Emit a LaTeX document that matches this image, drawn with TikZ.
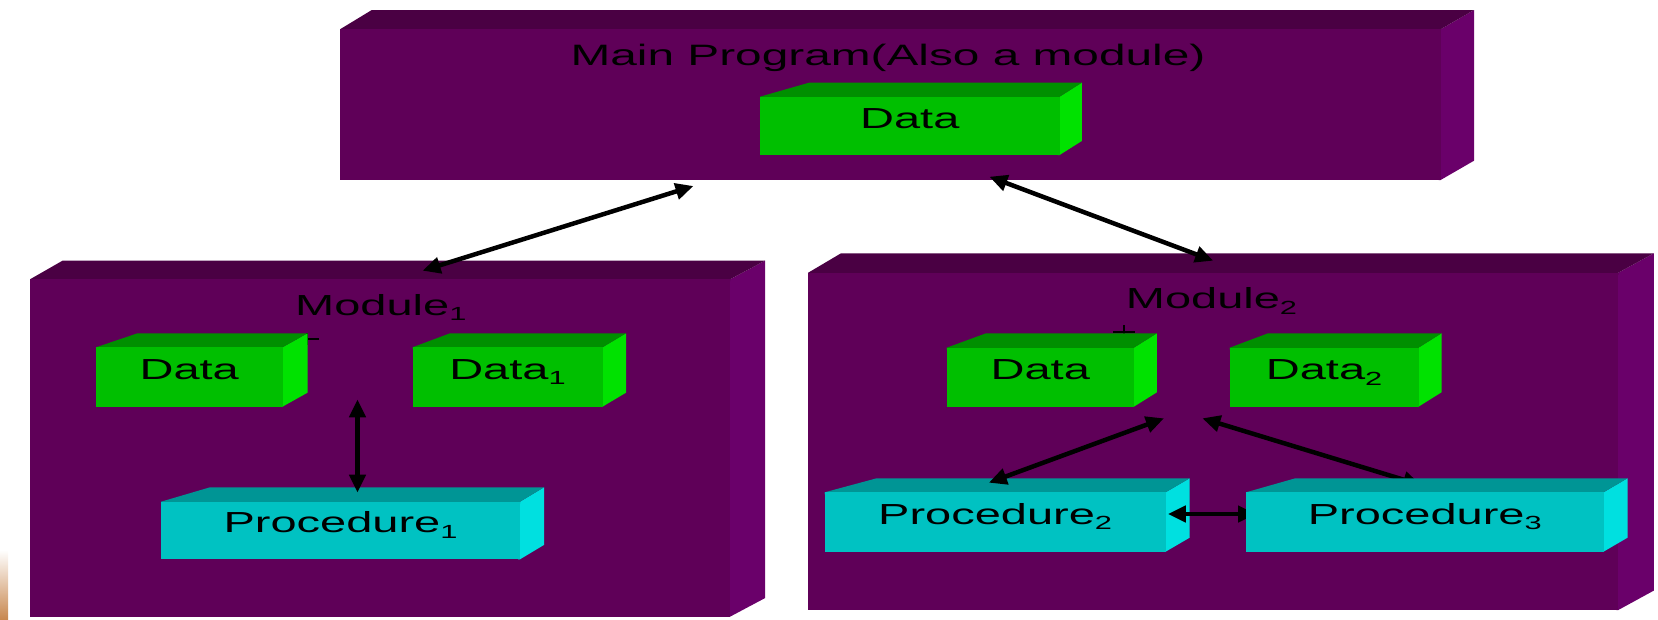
\documentclass[tikz,border=0pt]{standalone}
\usepackage{fontspec}
\newfontfamily\lblfont[FakeStretch=1.62]{Liberation Sans}
\usetikzlibrary{calc,arrows.meta}

% face colours of the extruded slabs
\definecolor{modF}{HTML}{5F0058}
\definecolor{modT}{HTML}{4A0043}
\definecolor{modS}{HTML}{6A006A}
\definecolor{datF}{HTML}{00BF00}
\definecolor{datT}{HTML}{008F00}
\definecolor{datS}{HTML}{00E200}
\definecolor{prcF}{HTML}{00C2C2}
\definecolor{prcT}{HTML}{009595}
\definecolor{prcS}{HTML}{00E0E0}

\tikzset{
  modfront/.style={fill=modF}, modtop/.style={fill=modT}, modside/.style={fill=modS},
  datfront/.style={fill=datF}, dattop/.style={fill=datT}, datside/.style={fill=datS},
  prcfront/.style={fill=prcF}, prctop/.style={fill=prcT}, prcside/.style={fill=prcS},
  lbl/.style={font=\lblfont\fontsize{29}{32}\selectfont, inner sep=0pt, text=black},
  link/.style={line width=4.5pt, black,
    {Triangle[length=18pt,width=16pt]}-{Triangle[length=18pt,width=16pt]}},
  tick/.style={line width=2pt, black}
}

% subscript index
\newcommand\lowidx[1]{\raisebox{-0.2em}{\fontsize{19}{20}\selectfont #1}}

% extruded slab: #1 name, #2 style prefix, #3..#6 front face x1,y1,x2,y2,
% #7 left slant, #8 right slant, #9 depth (upwards)
\newcommand\slab[9]{%
  \node[rectangle, draw=none, inner sep=0pt, outer sep=0pt,
        minimum width={(#5)-(#3)}, minimum height={(#6)-(#4)}]
        (#1) at ({((#3)+(#5))/2},{((#4)+(#6))/2}) {};
  % side and top faces reach a little under the front face so no seam shows
  \fill[#2side] ($(#1.north east)+(-2,0)$) -- (#1.north east) -- ($(#1.north east)+(#8,-#9)$)
                -- ($(#1.south east)+(#8,-#9)$) -- (#1.south east) -- ($(#1.south east)+(-2,0)$) -- cycle;
  \fill[#2top] ($(#1.north west)+(0,2)$) -- (#1.north west) -- ($(#1.north west)+(#7,-#9)$)
               -- ($(#1.north east)+(#8,-#9)$) -- (#1.north east) -- ($(#1.north east)+(0,2)$) -- cycle;
  \fill[#2front] (#1.north west) rectangle (#1.south east);
}

\begin{document}
\begin{tikzpicture}[x=1pt,y=-1pt]
\useasboundingbox (0,0) rectangle (1658,619);

% strip of background at the lower left edge
\shade[top color=white, middle color=white!85!brown, bottom color={rgb,255:red,200;green,136;blue,80}]
  (0,550) rectangle (8,619);

% the three modules
\slab{main}{mod}{340}{29.3}{1440.6}{180}{31.8}{33.4}{19.3}
\slab{modA}{mod}{30}{279.3}{730}{616.7}{32.5}{35}{18.6}
\slab{modB}{mod}{808.2}{272.7}{1618.3}{610}{32.8}{35.5}{19.4}

% stray crosses partly hidden behind the data slabs
\draw[tick] (295,339) -- (319,339) (307,333) -- (307,345);
\draw[tick] (1113,331.5) -- (1135,331.5) (1124,325) -- (1124,339);

% inner slabs
\slab{mdata}{dat}{760}{96.7}{1059.6}{155}{49}{22.2}{14}
\slab{adata}{dat}{96}{347.3}{282.5}{406.7}{41.5}{25}{14}
\slab{adata1}{dat}{412.5}{347.3}{602.5}{406.7}{37.5}{23.5}{14}
\slab{aproc1}{prc}{161}{501.7}{520}{559.3}{49}{24}{14.4}
\slab{bdata}{dat}{946.7}{347.7}{1133.9}{406.7}{39.3}{23}{14.4}
\slab{bdata2}{dat}{1229.7}{347.7}{1418.5}{406.7}{38.3}{23}{14.4}
\slab{bproc2}{prc}{824.6}{492.3}{1165.6}{551.7}{52}{24}{14}

% labels
\node[lbl, anchor=base, font=\lblfont\fontsize{29.5}{32}\selectfont] (ttl) at (888,65) {Main Program(Also a module)};
\node[lbl, anchor=mid] (tmdata) at (mdata.center) {Data};
\node[lbl, anchor=base west] (tmodA) at (295,315) {Module\lowidx{1}};
\node[lbl, anchor=mid] (tadata) at (adata.center) {Data};
\node[lbl, anchor=mid] (tadata1) at (adata1.center) {Data\lowidx{1}};
\node[lbl, anchor=mid] (taproc1) at (aproc1.center) {Procedure\lowidx{1}};
\node[lbl, anchor=base west] (tmodB) at (1125.7,308.3) {Module\lowidx{2}};
\node[lbl, anchor=mid] (tbdata) at (bdata.center) {Data};
\node[lbl, anchor=mid] (tbdata2) at (bdata2.center) {Data\lowidx{2}};
\node[lbl, anchor=mid] (tbproc2) at (bproc2.center) {Procedure\lowidx{2}};

% connector ends
\coordinate (mainL) at (693.5,186);
\coordinate (modAin) at (422.5,270.7);
\coordinate (mainR) at (989.4,176.7);
\coordinate (modBin) at (1213.2,260.7);
\coordinate (aup) at (357.5,399.3);
\coordinate (adown) at (357.5,492.7);
\coordinate (hubL) at (1164,418.3);
\coordinate (p2top) at (988.8,482.7);
\coordinate (hubR) at (1202.3,418.3);
\coordinate (p3top) at (1421,485);
\coordinate (p2right) at (1167.8,514);
\coordinate (p3left) at (1256,514);

% connectors
\draw[link] (mainL) -- (modAin);
\draw[link] (mainR) -- (modBin);
\draw[link] (aup) -- (adown);
\draw[link] (hubL) -- (p2top);
\draw[link] (hubR) -- (p3top);
\draw[link] (p2right) -- (p3left);

% last slab covers the ends of the two links that meet it
\slab{bproc3}{prc}{1246}{492.3}{1603.5}{551.7}{49.3}{24}{14}
\node[lbl, anchor=mid] (tbproc3) at (bproc3.center) {Procedure\lowidx{3}};
\end{tikzpicture}
\end{document}
